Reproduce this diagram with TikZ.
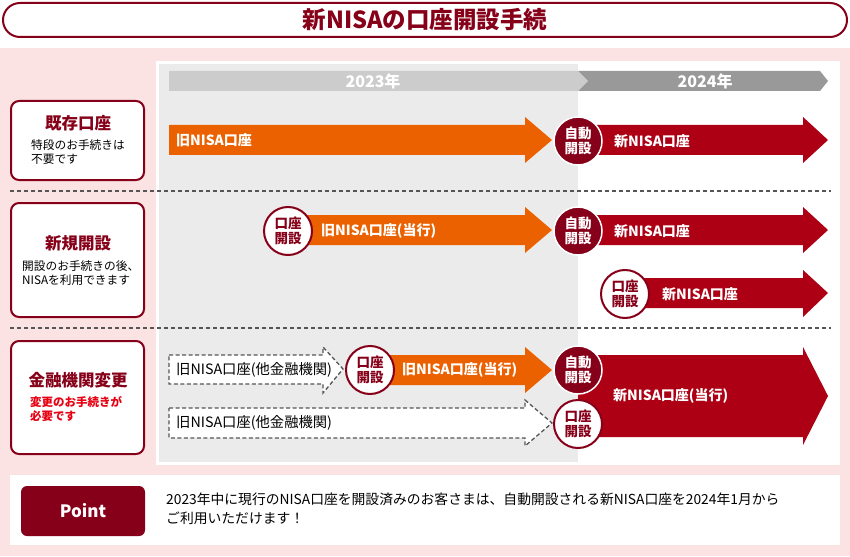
\documentclass[tikz,border=0pt]{standalone}
\usepackage{fontspec}
\setmainfont{Noto Sans CJK JP}
\definecolor{dred}{HTML}{870019}
\definecolor{ared}{HTML}{AD0014}
\definecolor{aorange}{HTML}{EB6100}
\definecolor{pinkbg}{HTML}{FBE3E3}
\definecolor{panelgray}{HTML}{EBEBEB}
\definecolor{yearA}{HTML}{CCCCCC}
\definecolor{yearB}{HTML}{999999}
\definecolor{dashc}{HTML}{555555}
\definecolor{subred}{HTML}{E60012}
\tikzset{
  boxtitle/.style={font=\bfseries\fontsize{16.5}{19}\selectfont, text=dred, inner sep=0pt},
  subtxt/.style={font=\fontsize{11.7}{14}\selectfont, align=left, anchor=north west, inner sep=0pt},
  lbl/.style={font=\bfseries\fontsize{14}{16}\selectfont, text=white, anchor=west, inner sep=0pt},
  dlbl/.style={font=\fontsize{14.3}{16}\selectfont, text=black, anchor=west, inner sep=0pt},
  circbase/.style={circle, minimum size=48pt, inner sep=0pt, align=center, font=\bfseries\fontsize{13.5}{15}\selectfont},
  autoc/.style={circbase, fill=dred, draw=white, line width=1.5pt, text=white},
  openc/.style={circbase, fill=white, draw=dred, line width=2pt, text=dred},
  leftbox/.style={draw=dred, line width=2pt, fill=white, rounded corners=8pt},
  sepline/.style={draw=dashc, line width=1.5pt, dash pattern=on 4pt off 3pt},
  dasharrow/.style={draw=dashc, line width=1.3pt, dash pattern=on 4pt off 2.5pt, fill=white},
  yearlbl/.style={font=\bfseries\fontsize{16}{18}\selectfont, text=white, inner sep=0pt}
}
\begin{document}
\begin{tikzpicture}[x=1pt,y=-1pt]
\useasboundingbox (0,0) rectangle (850,556);
\fill[white] (0,0) rectangle (850,556);
% title
\draw[dred, line width=2pt, fill=white, rounded corners=17pt] (3,3) rectangle (847,37);
\node[font=\bfseries\fontsize{23.5}{26}\selectfont, text=dred] (title) at (425,20) {新NISAの口座開設手続};
% pink background
\fill[pinkbg] (0,48) rectangle (850,556);
% panel
\fill[white] (156,61) rectangle (840,465);
\fill[panelgray] (159,64) rectangle (578,462);
% year bars
\fill[yearB] (578,71) -- (820,71) -- (828,81) -- (820,91) -- (578,91) -- cycle;
\fill[yearA] (169,71) -- (578,71) -- (588,81) -- (578,91) -- (169,91) -- cycle;
\node[yearlbl] (y2023) at (373,81) {2023年};
\node[yearlbl] (y2024) at (705,81) {2024年};
% separators
\draw[sepline] (10,191) -- (831,191);
\draw[sepline] (10,328) -- (831,328);
% left boxes
\draw[leftbox] (11,101) rectangle (144,180);
\node[boxtitle] (t1) at (78,123) {既存口座};
\node[subtxt] (s1) at (31,139) {特段のお手続きは\\不要です};
\draw[leftbox] (11,203) rectangle (144,317);
\node[boxtitle] (t2) at (78,243) {新規開設};
\node[subtxt] (s2) at (22,260) {開設のお手続きの後、\\NISAを利用できます};
\draw[leftbox] (11,341) rectangle (144,454);
\node[boxtitle] (t3) at (78,380) {金融機関変更};
\node[subtxt, font=\bfseries\fontsize{11.5}{14}\selectfont, text=subred] (s3) at (30,396) {変更のお手続きが\\必要です};
% row 1
\fill[aorange] (169,125) -- (525,125) -- (525,117) -- (552,140) -- (525,163) -- (525,155) -- (169,155) -- cycle;
\node[lbl] (r1a) at (176,140) {旧NISA口座};
\fill[ared] (578,125) -- (803,125) -- (803,117) -- (828,140) -- (803,163) -- (803,155) -- (578,155) -- cycle;
\node[lbl] (r1b) at (614,141) {新NISA口座};
\node[autoc] (c1) at (578,141) {自動\\開設};
% row 2
\fill[aorange] (288,215) -- (525,215) -- (525,207) -- (552,230) -- (525,253) -- (525,245) -- (288,245) -- cycle;
\node[lbl] (r2a) at (321,231) {旧NISA口座(当行)};
\node[openc] (c2a) at (288,231) {口座\\開設};
\fill[ared] (578,215) -- (803,215) -- (803,207) -- (828,230) -- (803,253) -- (803,245) -- (578,245) -- cycle;
\node[lbl] (r2b) at (614,231) {新NISA口座};
\node[autoc] (c2b) at (578,231) {自動\\開設};
\fill[ared] (625,278) -- (803,278) -- (803,270) -- (828,293) -- (803,317) -- (803,308) -- (625,308) -- cycle;
\node[lbl] (r2c) at (662,294) {新NISA口座};
\node[openc] (c2c) at (625,294) {口座\\開設};
% row 3
\draw[dasharrow] (169,355) -- (323,355) -- (323,347) -- (343,369) -- (323,393) -- (323,384) -- (169,384) -- cycle;
\node[dlbl] (r3a) at (176,370) {旧NISA口座(他金融機関)};
\draw[dasharrow] (169,408) -- (525,408) -- (525,400) -- (552,423) -- (525,446) -- (525,438) -- (169,438) -- cycle;
\node[dlbl] (r3d) at (176,423) {旧NISA口座(他金融機関)};
\fill[aorange] (370,355) -- (525,355) -- (525,347) -- (552,370) -- (525,393) -- (525,385) -- (370,385) -- cycle;
\node[lbl] (r3b) at (402,370) {旧NISA口座(当行)};
\node[openc] (c3a) at (370,370) {口座\\開設};
\fill[ared] (578,355) -- (803,355) -- (803,347) -- (828,396) -- (803,445) -- (803,437) -- (578,437) -- cycle;
\node[lbl] (r3c) at (613,396) {新NISA口座(当行)};
\node[autoc] (c3b) at (578,370) {自動\\開設};
\node[openc] (c3c) at (578,424) {口座\\開設};
% point
\fill[white] (10,475) rectangle (840,545);
\node[fill=dred, rounded corners=6pt, minimum width=124pt, minimum height=50pt, inner sep=0pt, text=white, font=\bfseries\fontsize{17}{19}\selectfont] (pt) at (83,511) {Point};
\node[anchor=north west, inner sep=0pt, align=left, font=\fontsize{13.8}{19}\selectfont] (ptxt) at (166,493) {2023年中に現行のNISA口座を開設済みのお客さまは、自動開設される新NISA口座を2024年1月から\\ご利用いただけます！};
\end{tikzpicture}
\end{document}
